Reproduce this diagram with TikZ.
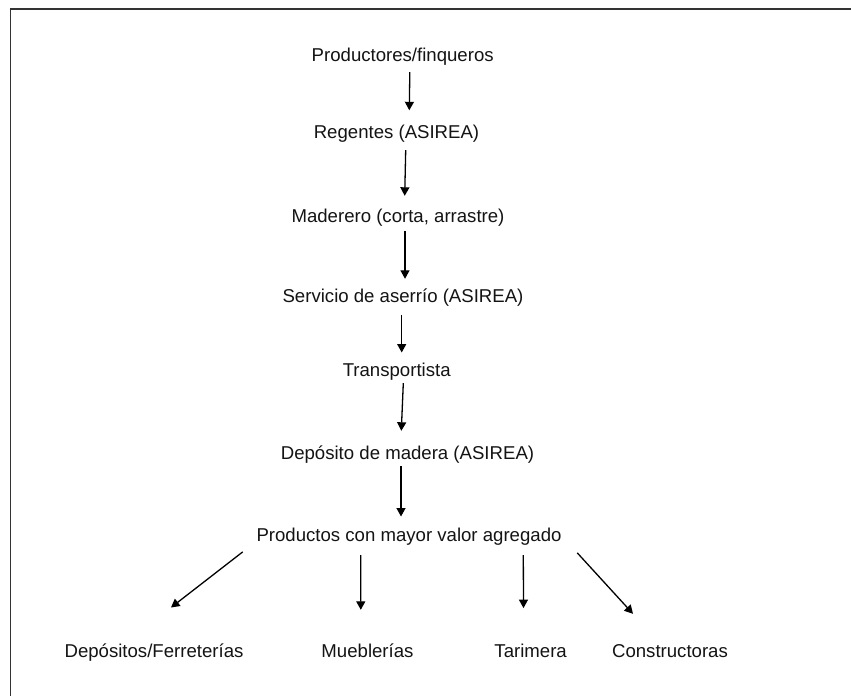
\documentclass[tikz,border=0pt]{standalone}
\usepackage{fontspec}
\setmainfont{Liberation Sans}
\usetikzlibrary{arrows.meta}
\begin{document}
\begin{tikzpicture}[x=1pt,y=-1pt,
  lbl/.style={anchor=base,inner sep=0pt,text height=13.3pt,text depth=3.9pt,
    font=\fontsize{18.6}{22}\selectfont,text=black!92},
  arr/.style={line width=1.3pt,-{Triangle[length=8.5pt,width=9pt]}},
  frame/.style={line width=1.6pt,draw=black!80}]
\useasboundingbox (0,0) rectangle (851,696);
\fill[white] (0,0) rectangle (851,696);
\draw[frame] (851,8.7) -- (10.5,8.7) -- (10.5,696);

\node[lbl] (p1) at (402.7,61.7) {Productores/finqueros};
\node[lbl] (p2) at (396.5,138) {Regentes (ASIREA)};
\node[lbl] (p3) at (398,222) {Maderero (corta, arrastre)};
\node[lbl] (p4) at (403,302.7) {Servicio de aserrío (ASIREA)};
\node[lbl] (p5) at (396.7,376) {Transportista};
\node[lbl] (p6) at (407.5,459) {Depósito de madera (ASIREA)};
\node[lbl] (p7) at (409,541.7) {Productos con mayor valor agregado};
\node[lbl] (b1) at (154,657) {Depósitos/Ferreterías};
\node[lbl] (b2) at (367.5,657) {Mueblerías};
\node[lbl] (b3) at (530.6,657) {Tarimera};
\node[lbl] (b4) at (670,657) {Constructoras};

\draw[arr] ([shift={(7.1,6.4)}]p1.south) -- ([shift={(12.8,-14.2)}]p2.north);
\draw[arr] ([shift={(9.2,8.1)}]p2.south) -- ([shift={(6.7,-12.7)}]p3.north);
\draw[arr] ([shift={(7,4.8)}]p3.south) -- ([shift={(2,-10.4)}]p4.north);
\draw[arr] ([shift={(-1.3,8.4)}]p4.south) -- ([shift={(5,-10)}]p5.north);
\draw[arr] ([shift={(6.6,3.1)}]p5.south) -- ([shift={(-6.2,-14.7)}]p6.north);
\draw[arr] ([shift={(-6.5,3.1)}]p6.south) -- ([shift={(-8,-11.7)}]p7.north);

\draw[arr] ([shift={(-166.3,6.1)}]p7.south) -- ([shift={(17,-36)}]b1.north);
\draw[arr] ([shift={(-48.3,9.4)}]p7.south) -- ([shift={(-6.7,-33.7)}]b2.north);
\draw[arr] ([shift={(114.3,9.4)}]p7.south) -- ([shift={(-7.1,-35.4)}]b3.north);
\draw[arr] ([shift={(168.3,7.1)}]p7.south) -- ([shift={(-37,-29.7)}]b4.north);
\end{tikzpicture}
\end{document}
